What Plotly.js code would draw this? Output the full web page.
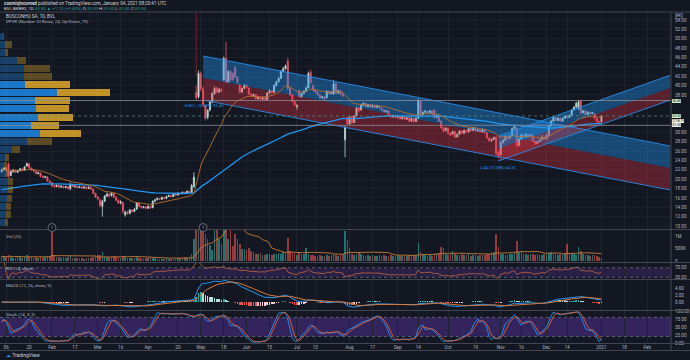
<!DOCTYPE html>
<html><head><meta charset="utf-8">
<script src="https://cdn.plot.ly/plotly-3.0.1.min.js"></script>
<style>html,body{margin:0;padding:0;background:#131722;}#chart{width:690px;height:360px;}</style>
</head><body><div id="chart"></div>
<script>
// ---------- DATA ----------
const firstDay = '2020-01-02';
const open = [
21.6,22.0,22.4,23.2,20.8,21.6,21.9,21.5,21.8,22.2,
21.9,22.8,23.3,22.4,22.0,21.7,21.2,21.3,20.6,20.4,
20.5,19.6,19.3,18.6,18.4,18.7,18.3,18.5,18.2,18.4,
18.0,18.9,18.4,18.5,18.2,18.4,18.1,18.3,18.0,18.3,
17.9,17.0,16.2,15.6,14.2,15.3,16.4,16.8,16.5,17.0,
16.2,15.5,14.9,15.0,12.4,13.0,12.7,13.4,13.1,13.6,
14.9,14.2,13.9,14.1,13.8,14.2,13.9,15.3,15.6,15.9,
15.7,16.1,15.9,16.3,16.5,16.3,16.8,16.6,17.0,16.9,
17.2,17.0,17.4,17.1,18.4,38.5,37.6,42.6,39.3,35.8,
33.2,34.8,36.5,38.3,39.5,38.6,39.2,41.2,45.8,40.8,
43.0,42.6,43.8,41.8,40.2,38.6,39.4,40.0,39.5,38.2,
37.8,38.1,37.2,37.5,37.1,37.4,37.0,38.4,38.9,38.5,
40.0,40.8,41.5,43.0,43.6,45.2,39.4,38.0,36.6,35.4,
38.9,37.6,38.3,38.8,39.5,42.8,40.0,39.0,38.6,38.0,
37.4,37.6,37.4,38.8,38.3,38.2,40.4,38.4,38.9,38.2,
28.4,33.2,31.8,33.4,32.1,33.5,35.2,34.8,35.8,36.2,
35.5,35.9,35.4,35.8,35.3,35.6,35.2,34.8,34.4,34.6,
33.7,33.3,33.6,33.2,33.5,32.9,33.3,32.8,33.1,32.4,
33.0,32.3,33.0,36.6,33.8,34.3,34.5,34.2,34.6,34.8,
33.2,33.6,32.4,31.0,30.4,30.9,29.8,29.6,30.2,29.0,
29.6,30.3,29.8,30.4,30.1,30.8,30.4,30.9,30.3,30.5,
30.1,30.6,29.9,28.8,28.2,28.5,29.0,25.8,25.2,27.8,
28.3,29.2,28.7,29.4,30.8,31.0,27.2,28.6,29.5,29.0,
29.6,29.1,29.5,28.1,27.6,28.0,28.4,29.0,28.6,29.4,
31.4,32.4,33.2,32.5,33.0,32.4,33.0,33.5,33.2,33.6,
34.8,35.4,35.0,36.6,34.2,34.6,33.8,34.3,34.0,34.0,
33.0,32.3,32.3];
const high = [
22.3,22.6,22.7,23.6,21.8,22.2,22.0,22.0,22.4,22.3,
22.8,23.6,23.4,22.5,22.2,21.8,21.6,21.4,20.8,20.7,
20.6,19.8,19.4,18.8,18.9,18.8,18.7,18.6,18.6,18.5,
19.3,19.0,18.7,18.6,18.6,18.5,18.5,18.4,18.5,18.4,
18.0,17.1,16.4,15.7,15.6,16.6,17.2,16.9,17.3,17.1,
16.3,15.7,15.5,15.1,13.3,13.2,13.6,13.5,13.8,15.1,
15.0,14.4,14.3,14.2,14.4,14.3,15.5,15.8,16.1,16.0,
16.3,16.2,16.5,16.7,16.6,17.0,16.9,17.2,17.2,17.4,
17.3,17.6,17.5,19.0,21.5,40.0,43.2,43.0,39.8,35.8,
35.0,36.8,38.6,39.8,39.7,39.5,39.4,46.2,49.3,43.3,
43.2,42.8,44.2,42.0,40.3,39.6,40.3,40.2,39.6,38.4,
38.3,38.2,37.7,37.6,37.6,37.5,38.6,39.2,39.0,40.3,
41.0,41.8,43.3,44.0,44.5,45.9,39.6,38.2,36.8,36.0,
39.2,38.5,39.0,39.8,43.0,43.4,40.2,39.2,38.8,38.1,
37.8,37.7,39.0,38.9,38.8,41.2,40.6,39.1,39.0,38.4,
31.3,33.4,33.4,33.5,33.7,35.5,35.6,36.1,36.5,36.3,
36.1,36.0,36.0,35.9,35.9,35.7,35.3,34.9,34.8,34.7,
33.8,33.8,33.7,33.7,33.6,33.5,33.4,33.3,33.2,33.2,
33.1,33.2,37.2,37.0,34.5,34.8,34.6,34.8,34.7,35.0,
33.8,33.7,32.6,31.2,31.1,31.0,30.0,30.4,30.3,29.8,
30.5,30.4,30.6,30.5,31.0,30.9,31.1,31.0,30.7,30.6,
30.8,30.7,30.0,28.9,28.7,29.1,29.1,26.2,28.1,28.5,
29.4,29.3,29.5,31.0,31.6,31.0,28.8,29.7,29.6,29.8,
29.7,29.7,29.6,28.2,28.2,28.6,29.4,29.1,29.6,31.6,
32.6,33.4,33.3,33.2,33.1,33.2,33.7,33.6,33.8,35.0,
35.6,36.5,36.9,37.0,34.8,34.7,34.5,34.4,34.4,34.1,
33.1,32.5,33.5];
const low = [
21.4,21.8,21.8,20.3,20.6,21.4,21.3,21.3,21.7,21.7,
21.8,22.6,22.2,21.8,21.5,21.0,21.0,20.4,20.2,20.2,
19.4,19.1,18.3,18.2,18.3,18.1,18.2,18.0,18.1,17.8,
17.6,18.3,18.2,18.0,18.1,17.9,18.0,17.8,17.9,17.7,
16.8,16.0,15.5,14.0,12.0,15.1,16.2,16.1,16.3,16.0,
15.3,14.7,14.6,12.6,12.0,12.4,12.5,12.9,13.0,13.5,
14.0,13.7,13.8,13.6,13.7,13.7,13.8,15.1,15.5,15.5,
15.6,15.7,15.8,16.2,16.1,16.2,16.4,16.5,16.7,16.8,
16.8,16.9,16.9,17.0,18.2,36.8,37.2,38.8,35.4,32.5,
32.8,34.5,36.2,38.0,38.3,38.4,38.6,41.0,40.5,40.6,
40.9,41.0,41.6,40.4,38.3,38.4,39.2,39.4,38.0,37.6,
37.6,37.0,37.0,36.9,36.9,36.8,36.9,38.2,38.3,38.4,
39.8,40.6,41.4,42.8,43.4,39.0,37.8,36.4,35.6,34.8,
37.4,37.4,38.1,38.6,39.4,40.4,38.8,38.4,37.8,37.2,
37.2,36.9,37.3,38.1,38.1,38.0,38.2,38.2,38.0,37.5,
24.7,31.6,31.6,31.8,32.0,33.4,34.3,34.6,35.6,35.3,
35.3,35.2,35.3,35.1,35.2,35.0,34.6,34.2,34.2,33.5,
33.1,33.1,33.0,33.0,32.7,32.8,32.6,32.7,32.2,32.3,
32.1,32.2,32.9,33.6,33.6,34.1,34.0,34.1,33.8,33.0,
33.0,32.2,30.8,30.0,30.2,29.6,29.2,29.5,28.8,28.9,
29.5,29.6,29.7,29.9,30.0,30.2,30.3,30.1,30.2,29.9,
30.0,29.7,28.6,28.0,28.0,28.4,25.2,24.5,25.0,27.6,
28.2,28.5,28.6,29.3,30.6,26.6,27.0,28.5,28.8,28.9,
28.9,29.0,27.9,27.3,27.5,27.9,28.3,28.4,28.5,29.3,
31.2,32.2,32.3,32.4,32.2,32.3,32.9,33.0,33.1,33.5,
34.6,35.2,34.8,33.7,34.0,33.6,33.7,33.8,33.9,32.8,
32.1,32.0,32.0];
const close = [
22.0,22.4,22.0,20.6,21.6,21.9,21.5,21.8,22.2,21.9,
22.6,23.3,22.4,22.0,21.7,21.2,21.4,20.6,20.4,20.5,
19.6,19.3,18.6,18.4,18.7,18.3,18.5,18.2,18.4,18.0,
18.9,18.4,18.5,18.2,18.4,18.1,18.3,18.0,18.3,17.9,
17.0,16.2,15.8,14.4,15.3,16.4,16.8,16.4,17.0,16.2,
15.5,14.9,15.2,13.2,13.0,12.7,13.4,13.1,13.6,14.9,
14.2,13.9,14.1,13.8,14.2,13.9,15.3,15.6,15.9,15.7,
16.1,15.9,16.3,16.5,16.3,16.8,16.6,17.0,16.9,17.2,
17.0,17.4,17.1,18.6,20.4,37.4,42.6,39.3,36.0,33.0,
34.7,36.5,38.3,39.4,38.6,39.2,38.9,45.8,40.8,43.0,
41.2,41.3,41.8,40.6,38.6,39.4,40.0,39.6,38.2,37.8,
38.1,37.2,37.5,37.1,37.4,37.0,38.4,38.9,38.5,40.0,
40.8,41.5,43.0,43.6,44.2,39.4,38.0,36.6,35.9,35.8,
37.6,38.3,38.8,39.5,42.6,40.6,39.0,38.6,38.0,37.4,
37.6,37.1,38.8,38.3,38.6,40.4,38.4,38.9,38.2,37.8,
31.1,31.8,33.2,32.1,33.5,35.2,34.6,35.8,36.2,35.5,
35.9,35.4,35.8,35.3,35.7,35.2,34.8,34.4,34.6,33.7,
33.3,33.6,33.2,33.5,32.9,33.3,32.8,33.1,32.4,33.0,
32.3,33.0,36.8,33.8,34.3,34.5,34.2,34.6,34.0,33.2,
33.6,32.4,31.0,30.2,30.9,29.8,29.4,30.2,29.0,29.6,
30.3,29.8,30.4,30.1,30.8,30.4,30.9,30.3,30.5,30.1,
30.6,29.9,28.8,28.2,28.5,28.9,25.4,24.9,27.8,28.3,
29.2,28.7,29.3,30.8,31.2,27.2,28.6,29.5,29.0,29.6,
29.1,29.5,28.1,27.6,28.0,28.4,29.0,28.6,29.4,31.4,
32.4,33.2,32.5,33.0,32.4,33.0,33.5,33.2,33.6,34.8,
35.4,36.2,36.6,34.2,34.6,33.8,34.3,34.0,34.2,33.0,
32.3,32.2,33.5];
const volumeK = [
190,150,170,240,160,140,130,150,170,140,
160,230,180,150,130,170,140,180,130,150,
190,210,1160,260,170,150,140,160,130,150,
200,140,120,130,110,120,100,130,140,120,
180,210,230,230,360,190,160,150,170,200,
160,180,140,200,170,130,120,110,140,160,
130,120,100,110,120,150,140,110,100,90,
100,90,110,80,90,100,90,110,120,130,
150,130,180,300,900,2500,3000,2000,1500,1100,
900,640,450,1800,1500,900,700,2600,3500,900,
1300,600,1100,900,700,500,480,450,520,400,
350,300,280,320,260,240,300,280,250,300,
280,320,300,350,330,920,400,350,300,260,
380,300,280,520,300,250,260,220,200,240,
220,200,250,210,230,300,260,220,240,300,
1200,840,540,300,260,280,360,300,250,220,
240,200,260,220,200,230,210,250,200,220,
240,210,200,230,190,220,200,210,250,230,
220,260,720,380,300,250,220,240,210,280,
300,320,560,520,300,260,280,400,300,250,
260,280,250,230,270,220,260,240,210,250,
230,260,300,280,350,380,1080,560,300,280,
260,250,300,280,320,800,360,400,300,280,
260,300,280,250,270,240,260,300,280,320,
350,300,280,260,300,280,300,680,320,300,
280,260,550,400,300,260,240,220,250,230,
200,180,120];

// Volume profile (visible range), 24 rows, top to bottom
const vpRowPrice = [50.58,48.85,47.12,45.39,43.66,41.93,40.20,38.47,36.74,35.01,33.28,31.55,29.82,28.09,26.36,24.63,22.90,21.17,19.44,17.71,15.98,14.25,12.52,10.79];
const vpUpK   = [300,500,500,1700,2400,2400,2500,5700,3500,3600,3800,3100,4000,2700,1200,500,400,500,800,800,700,600,600,500];
const vpDownK = [100,700,300,900,2600,2800,4500,5300,3500,3300,3500,2800,4100,2500,800,400,300,300,500,500,500,500,500,300];
const vpValueAreaRows = [6,7,8,9,10,11,12];

// Drawn channels (start / end of the drawing)
const ch1Dates = ['2020-05-05 12:00','2021-02-15 12:00'];
const ch1Upper = [46.3, 27.1];
const ch1Mid   = [41.6, 22.4];
const ch1Lower = [36.9, 17.7];
const ch2Dates = ['2020-11-02 12:00','2021-02-15 12:00'];
const ch2Upper = [29.2, 42.2];
const ch2Mid   = [26.5, 39.5];
const ch2Lower = [23.9, 36.9];
const ch1Label = '\u22128.80 (\u221220.08%) 95.45';
const ch2Label = '2.44 (10.08%) 64.25';

const hLines = [36.80, 31.50];
const countdownText = '27:08:19';
const emaSlowStart = 17.7;
const eventDates = ['2020-02-03 12:00','2020-05-05 12:00'];
const markerLineDate = '2020-04-30 12:00';
const stochParams = [14, 3, 3];
const priceTicks = [10,12,14,16,18,20,22,24,26,28,30,32,34,36,38,40,42,44,46,48,50,52,54];

const tickDates = ['2020-01-06','2020-01-20','2020-02-03','2020-02-17','2020-03-02','2020-03-16','2020-04-01','2020-04-20','2020-05-04','2020-05-18','2020-06-01','2020-06-15','2020-07-01','2020-07-13','2020-08-03','2020-08-17','2020-09-01','2020-09-14','2020-10-01','2020-10-19','2020-11-03','2020-11-16','2020-12-01','2020-12-14','2021-01-04','2021-01-18','2021-02-01'];
const tickLabels = ['06','20','Feb','17','Mar','16','Apr','20','May','18','Jun','15','Jul','13','Aug','17','Sep','14','Oct','19','Nov','16','Dec','14','2021','18','Feb'];

// ---------- helpers ----------
function tradingDates(start, n){
  const out=[]; const d=new Date(start+'T12:00:00Z');
  while(out.length<n){ const w=d.getUTCDay(); if(w!==0&&w!==6) out.push(d.toISOString().slice(0,10)+' 12:00'); d.setUTCDate(d.getUTCDate()+1); }
  return out;
}
function ema(a,n,seed){ const k=2/(n+1); const o=[]; let p=(seed===undefined)?a[0]:seed; for(let i=0;i<a.length;i++){ p = (i===0 && seed===undefined)? a[0] : k*a[i]+(1-k)*p; o.push(p);} return o; }
function sma(a,n){ const o=[]; let s=0; for(let i=0;i<a.length;i++){ s+=a[i]; if(i>=n) s-=a[i-n]; o.push(s/Math.min(i+1,n)); } return o; }
function rsi(c,n){ const o=[null]; let ag=0,al=0; for(let i=1;i<c.length;i++){ const d=c[i]-c[i-1]; const u=Math.max(d,0), dn=Math.max(-d,0);
  if(i<=n){ ag=(ag*(i-1)+u)/i; al=(al*(i-1)+dn)/i; } else { ag=(ag*(n-1)+u)/n; al=(al*(n-1)+dn)/n; }
  o.push(al===0?100:100-100/(1+ag/al)); } return o; }

const dates = tradingDates(firstDay, close.length);
const volume = volumeK.map(v=>v*1000);
const emaFast = ema(close,20);
const emaSlow = ema(close,100,emaSlowStart);
const volMa = sma(volume,20);
const rsiV = rsi(close,14);
const e12 = ema(close,12), e26 = ema(close,26);
const macd = e12.map((v,i)=>v-e26[i]);
const signal = ema(macd,9);
const hist = macd.map((v,i)=>v-signal[i]);
const histColors = hist.map((h,i)=>{ const p=i>0?hist[i-1]:h; return h>=0 ? (h>=p?'#26a69a':'#b2dfdb') : (h<p?'#ef5350':'#ffcdd2'); });
const rawK = close.map((c,i)=>{ const s=Math.max(0,i-stochParams[0]+1); const lo=Math.min(...low.slice(s,i+1)), hi=Math.max(...high.slice(s,i+1)); return hi===lo?50:100*(c-lo)/(hi-lo); });
const stochK = sma(rawK, stochParams[1]);
const stochD = sma(stochK, stochParams[2]);
const volColors = close.map((c,i)=> c>=open[i] ? 'rgba(38,166,154,0.65)' : 'rgba(239,83,80,0.6)');

const vpTotals = vpUpK.map((u,i)=>u+vpDownK[i]);
const vpXmax = Math.max(...vpTotals)*671/110;
const vpUpColors = vpRowPrice.map((_,i)=> vpValueAreaRows.includes(i)?'rgba(30,136,229,0.85)':'rgba(30,136,229,0.35)');
const vpDownColors = vpRowPrice.map((_,i)=> vpValueAreaRows.includes(i)?'rgba(224,168,40,0.85)':'rgba(224,168,40,0.35)');
const lastClose = close[close.length-1];
// price-scale labels hidden where a price tag covers them (as on the reference)
const tagPrices = [hLines[0], lastClose, hLines[1]];
const shownPriceTicks = priceTicks.filter(t => tagPrices.every(p => Math.abs(p - t) >= 0.95));

// ---------- traces ----------
function band(d, t, b, color){ return {type:'scatter', x:[d[0],d[1],d[1],d[0],d[0]], y:[t[0],t[1],b[1],b[0],t[0]], mode:'lines', line:{width:0}, fill:'toself', fillcolor:color, hoverinfo:'skip', xaxis:'x', yaxis:'y'}; }
function edge(d, v){ return {type:'scatter', x:d, y:v, mode:'lines', line:{color:'#2a8be8', width:0.9}, hoverinfo:'skip', xaxis:'x', yaxis:'y'}; }
const dayMs = 86400000;
const traces = [
  band(ch1Dates, ch1Upper, ch1Mid, 'rgba(33,150,243,0.40)'),
  band(ch1Dates, ch1Mid, ch1Lower, 'rgba(242,54,69,0.32)'),
  band(ch2Dates, ch2Upper, ch2Mid, 'rgba(33,150,243,0.40)'),
  band(ch2Dates, ch2Mid, ch2Lower, 'rgba(242,54,69,0.32)'),
  edge(ch1Dates, ch1Upper), edge(ch1Dates, ch1Lower),
  edge(ch2Dates, ch2Upper), edge(ch2Dates, ch2Lower),
  {type:'candlestick', x:dates, open:open, high:high, low:low, close:close, xaxis:'x', yaxis:'y', hoverinfo:'skip',
   increasing:{line:{color:'#b9ddd6', width:0.8}, fillcolor:'#b9ddd6'},
   decreasing:{line:{color:'#ef5366', width:0.8}, fillcolor:'#ef5366'}},
  {type:'scatter', x:dates, y:emaSlow, mode:'lines', line:{color:'#2196f3', width:1.3}, xaxis:'x', yaxis:'y', hoverinfo:'skip'},
  {type:'scatter', x:dates, y:emaFast, mode:'lines', line:{color:'#b86e2c', width:0.9}, xaxis:'x', yaxis:'y', hoverinfo:'skip'},
  {type:'bar', orientation:'h', y:vpRowPrice, x:vpUpK, width:1.5, marker:{color:vpUpColors, line:{width:0}}, xaxis:'x2', yaxis:'y', hoverinfo:'skip'},
  {type:'bar', orientation:'h', y:vpRowPrice, x:vpDownK, width:1.5, marker:{color:vpDownColors, line:{width:0}}, xaxis:'x2', yaxis:'y', hoverinfo:'skip'},
  {type:'bar', x:dates, y:volume, width:0.7*dayMs, marker:{color:volColors, line:{width:0}}, xaxis:'x', yaxis:'y2', hoverinfo:'skip'},
  {type:'scatter', x:dates, y:volMa, mode:'lines', line:{color:'#c7792e', width:0.9}, xaxis:'x', yaxis:'y2', hoverinfo:'skip'},
  {type:'scatter', x:dates, y:rsiV, mode:'lines', line:{color:'#c9643c', width:0.8}, xaxis:'x', yaxis:'y3', hoverinfo:'skip'},
  {type:'bar', x:dates, y:hist, width:0.7*dayMs, marker:{color:histColors, line:{width:0}}, xaxis:'x', yaxis:'y4', hoverinfo:'skip'},
  {type:'scatter', x:dates, y:macd, mode:'lines', line:{color:'#2196f3', width:1}, xaxis:'x', yaxis:'y4', hoverinfo:'skip'},
  {type:'scatter', x:dates, y:signal, mode:'lines', line:{color:'#d9793a', width:1}, xaxis:'x', yaxis:'y4', hoverinfo:'skip'},
  {type:'scatter', x:dates, y:stochK, mode:'lines', line:{color:'#2196f3', width:0.9}, xaxis:'x', yaxis:'y5', hoverinfo:'skip'},
  {type:'scatter', x:dates, y:stochD, mode:'lines', line:{color:'#e0603a', width:0.9}, xaxis:'x', yaxis:'y5', hoverinfo:'skip'}
];

// ---------- layout ----------
const topPx = 12, bottomPx = 343, Hpx = bottomPx - topPx;
const py = px => (bottomPx - px)/Hpx;
const sepColor = '#434651';
const axisText = {size:4.6, color:'#b2b5be', family:'Roboto, sans-serif'};
const yBase = {anchor:'x', side:'right', ticks:'', ticklabelstandoff:3, zeroline:false, showline:false, tickfont:axisText, fixedrange:true};
const shapes = [
  ...[229.5, 262.5, 279.5, 310.5].map(y=>({type:'line', xref:'paper', yref:'paper', x0:0, x1:1.03, y0:py(y), y1:py(y), line:{color:sepColor, width:1}})),
  {type:'line', xref:'paper', yref:'paper', x0:0, x1:1.03, y0:py(343.5), y1:py(343.5), line:{color:sepColor, width:1}},
  {type:'line', xref:'paper', yref:'paper', x0:0, x1:1.03, y0:py(350.5), y1:py(350.5), line:{color:sepColor, width:1}},
  {type:'line', xref:'paper', yref:'paper', x0:0, x1:1.03, y0:1, y1:1, line:{color:sepColor, width:1}},
  {type:'line', xref:'paper', yref:'paper', x0:1, x1:1, y0:py(350.5), y1:1, line:{color:sepColor, width:1}},
  ...hLines.map(v=>({type:'line', xref:'paper', yref:'y', x0:0, x1:1, y0:v, y1:v, line:{color:'#8a8d96', width:0.8}})),
  {type:'line', xref:'paper', yref:'y', x0:0, x1:1, y0:lastClose, y1:lastClose, line:{color:'#5f8f86', width:0.7, dash:'dot'}},
  {type:'line', xref:'x', yref:'y', x0:markerLineDate, x1:markerLineDate, y0:42, y1:55.7, line:{color:'#6e2633', width:1}},
  {type:'rect', xref:'paper', yref:'y3', x0:0, x1:1, y0:30, y1:70, fillcolor:'rgba(103,58,183,0.25)', line:{width:0}, layer:'below'},
  ...[30,70].map(v=>({type:'line', xref:'paper', yref:'y3', x0:0, x1:1, y0:v, y1:v, line:{color:'#787b86', width:0.7, dash:'dot'}})),
  {type:'rect', xref:'paper', yref:'y5', x0:0, x1:1, y0:20, y1:80, fillcolor:'rgba(103,58,183,0.40)', line:{width:0}, layer:'below'},
  ...[20,80].map(v=>({type:'line', xref:'paper', yref:'y5', x0:0, x1:1, y0:v, y1:v, line:{color:'#787b86', width:0.7, dash:'dot'}})),
  ...eventDates.map(d=>({type:'circle', xref:'x', yref:'paper', xsizemode:'pixel', ysizemode:'pixel', xanchor:d, yanchor:py(227.5), x0:-4, x1:4, y0:-4, y1:4, line:{color:'#787b86', width:0.8}, fillcolor:'#131722'}))
];
const tag = (v, t, bg, size) => ({xref:'paper', yref:'y', x:1, y:v, xanchor:'left', yanchor:'middle', xshift:1, text:t, showarrow:false, font:{size:size||3.6, color:'#131722', family:'Roboto, sans-serif'}, bgcolor:bg, borderpad:0.2, borderwidth:0});
const txt = (xpx, ypx, t, size, color) => ({xref:'paper', yref:'paper', x:xpx/671, y:py(ypx), xanchor:'left', yanchor:'middle', text:t, showarrow:false, font:{size:size||4.6, color:color||'#b2b5be', family:'Roboto, sans-serif'}});
const teal = s => '<span style="color:#26a69a">'+s+'</span>';
const annotations = [
  txt(2, 4, '<b>cosmiqincomed</b> published on TradingView.com, January 04, 2021 08:20:41 UTC', 4.6, '#d1d4dc'),
  txt(2, 9, 'BVL:BKBR3, 1D '+teal('33.50 \u25b2 +1.10 (+3.40%)')+' O:'+teal('33.00')+' H:'+teal('33.50')+' L:'+teal('32.00')+' C:'+teal('33.50'), 4.4, '#d1d4dc'),
  txt(4, 16, 'BOSCONHO SA, 1D, BVL', 4.6, '#d1d4dc'),
  txt(4, 21, 'VPVR (Number Of Rows, 24, Up/Down, 70)', 4.4),
  txt(4, 236, 'Vol (20)', 4.4),
  txt(4, 268.5, 'RSI (14, close)', 4.4),
  txt(4, 285, 'MACD (12, 26, close, 9)', 4.4),
  txt(4, 314, 'Stoch ('+stochParams.join(', ')+')', 4.4),
  txt(4, 355, '<span style="color:#2196f3">\u2601</span> TradingView', 5, '#d1d4dc'),
  tag(hLines[0], hLines[0].toFixed(2), '#cfeed3'),
  tag(lastClose, lastClose.toFixed(2), '#cfeed3'),
  Object.assign(tag(lastClose, countdownText, '#eef5ef', 3.0), {yshift:-4.7}),
  tag(hLines[1], hLines[1].toFixed(2), '#e6ece7'),
  {xref:'paper', yref:'paper', x:1, y:py(16), xanchor:'left', yanchor:'middle', xshift:4, text:'BRL', showarrow:false, font:{size:3.6, color:'#b2b5be'}, bordercolor:'#787b86', borderwidth:0.5, borderpad:0.5},
  {xref:'x', yref:'y', x:ch1Dates[0], y:ch1Lower[0], xanchor:'center', yanchor:'top', yshift:-1, text:ch1Label, showarrow:false, font:{size:4, color:'#2196f3'}},
  {xref:'x', yref:'y', x:ch2Dates[0], y:ch2Lower[0], xanchor:'center', yanchor:'top', yshift:-2, text:ch2Label, showarrow:false, font:{size:4, color:'#2196f3'}},
  ...eventDates.map(d=>({xref:'x', yref:'paper', x:d, y:py(227.5), text:'1', showarrow:false, font:{size:4, color:'#b2b5be'}, xanchor:'center', yanchor:'middle'}))
];

const layout = {
  width:690, height:360, margin:{l:0, r:19, t:topPx, b:360-bottomPx, pad:0},
  paper_bgcolor:'#131722', plot_bgcolor:'#131722', showlegend:false, barmode:'stack',
  font:{family:'Roboto, sans-serif', size:4.6, color:'#b2b5be'},
  xaxis:{type:'date', anchor:'y5', range:['2020-01-01 19:00','2021-02-15 21:00'], rangebreaks:[{bounds:['sat','mon']}],
    rangeslider:{visible:false}, tickvals:tickDates.map(d=>d+' 12:00'), ticktext:tickLabels, ticks:'', tickfont:axisText,
    showgrid:true, gridcolor:'#1f2330', gridwidth:1, zeroline:false, showline:false, fixedrange:true},
  xaxis2:{overlaying:'x', anchor:'y', range:[0, vpXmax], visible:false, fixedrange:true},
  yaxis: Object.assign({}, yBase, {domain:[py(229),1], range:[9.36,55.71], tickvals:shownPriceTicks, tickformat:'.2f', showgrid:true, gridcolor:'#1c202b'}),
  yaxis2: Object.assign({}, yBase, {domain:[py(262),py(230)], range:[-40000,1240000], tickvals:[0,500000,1000000], ticktext:['0','500K','1M'], showgrid:false}),
  yaxis3: Object.assign({}, yBase, {domain:[py(279),py(263)], range:[23,89.6], tickvals:[30,70], tickformat:'.2f', showgrid:false}),
  yaxis4: Object.assign({}, yBase, {domain:[py(310),py(280)], range:[-2.29,6.29], tickvals:[0,2,4], tickformat:'.2f', showgrid:false}),
  yaxis5: Object.assign({}, yBase, {domain:[0,py(311)], range:[0,100], tickvals:[0,25,50,75,100], tickformat:'.2f', showgrid:false}),
  shapes:shapes, annotations:annotations
};
Plotly.newPlot('chart', traces, layout, {staticPlot:true, displayModeBar:false});
</script></body></html>
